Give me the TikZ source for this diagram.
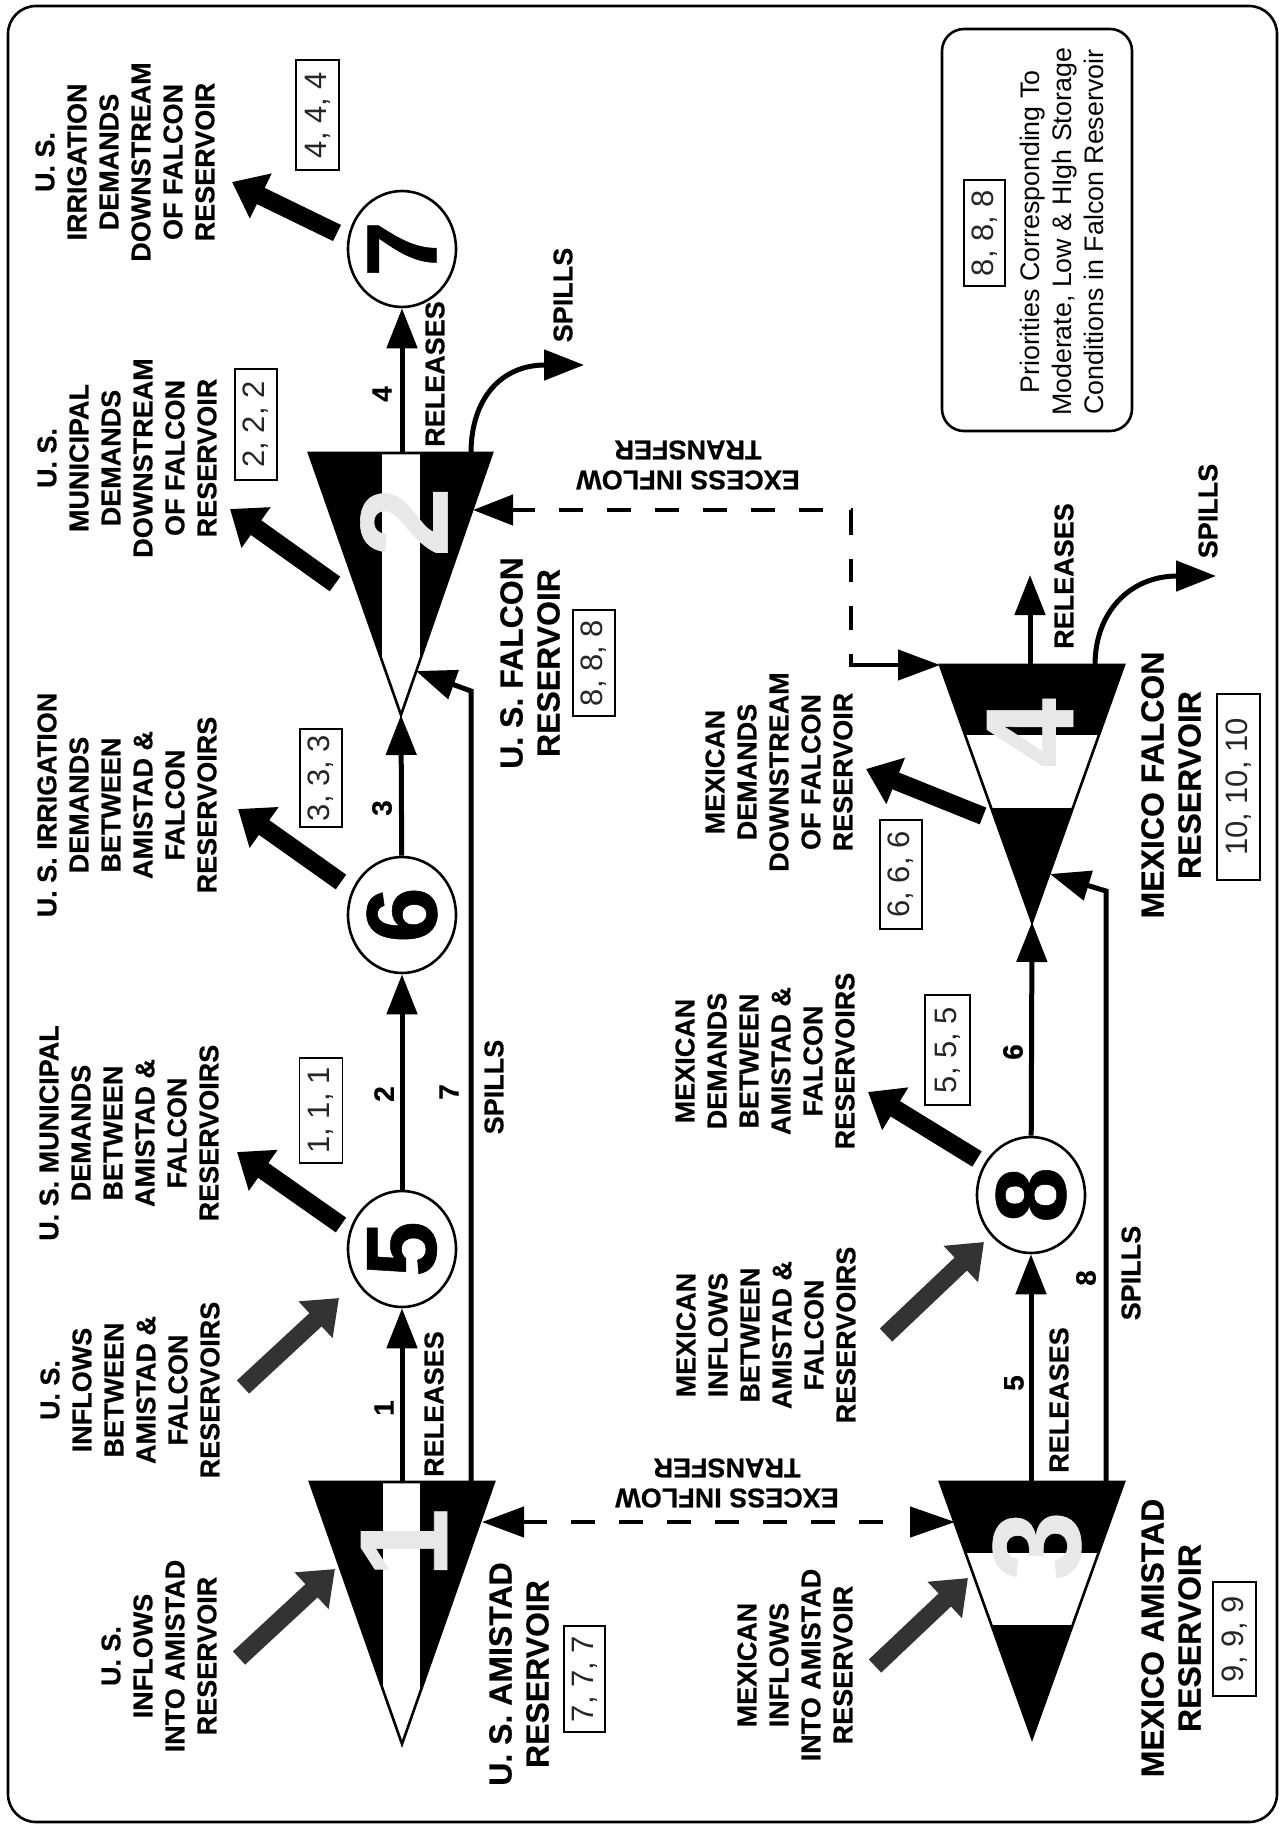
\documentclass[tikz,border=0pt]{standalone}
\usepackage{fontspec}
\setmainfont{Liberation Sans}[BoldFeatures={FakeBold=0.5}]
\usetikzlibrary{arrows.meta,shapes.geometric}
\tikzset{
 x=1pt,y=-1pt,
 txt/.style={rotate=90,align=center,inner sep=0pt,font=\bfseries\fontsize{27}{32}\selectfont},
 ttl/.style={rotate=90,align=center,inner sep=0pt,font=\bfseries\fontsize{32}{37}\selectfont},
 flip/.style={rotate=180,align=center,inner sep=0pt,font=\bfseries\fontsize{27}{30}\selectfont},
 num/.style={rotate=90,inner sep=0pt,font=\bfseries\fontsize{28}{30}\selectfont},
 pri/.style={draw,rotate=90,line width=1.6pt,inner sep=0pt,text=black!85,font=\fontsize{31}{33}\selectfont},
 leg/.style={rotate=90,align=center,inner sep=0pt,font=\fontsize{26.8}{32}\selectfont},
 res/.style={draw,ellipse,rotate=90,fill=white,line width=2.6pt,inner sep=0pt,minimum width=116pt,minimum height=108pt,font=\bfseries\fontsize{100}{100}\selectfont},
 numb/.style={rotate=90,inner sep=0pt,text=black!9,font=\bfseries\fontsize{125}{125}\selectfont},
 flow/.style={line width=5pt,-{Triangle[length=40pt,width=30pt]}},
 big/.style={line width=18pt,-{Triangle[length=32pt,width=48pt]}},
 gbig/.style={big,color=black!80},
 trans/.style={line width=4.5pt},
 tri/.style={line width=2.6pt,draw=black,line join=miter},
}
\begin{document}
\begin{tikzpicture}
\path[use as bounding box,fill=white] (0,0) rectangle (1285,1825);
\node[draw,rounded corners=28pt,line width=2.6pt,minimum width=1269pt,minimum height=1816pt,inner sep=0pt] (frame) at (642.5,914) {};

% reservoir triangles
\coordinate (a1) at (402,1744);\coordinate (l1) at (310,1482);\coordinate (r1) at (494,1482);
\coordinate (a2) at (401,715);\coordinate (l2) at (309,453);\coordinate (r2) at (492,453);
\coordinate (a3) at (1032,1738);\coordinate (l3) at (940,1482);\coordinate (r3) at (1124,1482);
\coordinate (a4) at (1032,922);\coordinate (l4) at (940,665);\coordinate (r4) at (1124,665);
\fill (a1)--(l1)--(r1)--cycle;
\fill (a2)--(l2)--(r2)--cycle;
\fill (a3)--(l3)--(r3)--cycle;
\fill (a4)--(l4)--(r4)--cycle;
\begin{scope}\clip (a1)--(l1)--(r1)--cycle;\fill[white] (383,1482) rectangle (420,1744);\end{scope}
\begin{scope}\clip (a2)--(l2)--(r2)--cycle;\fill[white] (382,453) rectangle (420,715);\end{scope}
\begin{scope}\clip (a3)--(l3)--(r3)--cycle;\fill[white] (940,1553) rectangle (1124,1625);\end{scope}
\begin{scope}\clip (a4)--(l4)--(r4)--cycle;\fill[white] (940,735) rectangle (1124,808);\end{scope}
\draw[tri] (a1)--(l1)--(r1)--cycle;
\draw[tri] (a2)--(l2)--(r2)--cycle;
\draw[tri] (a3)--(l3)--(r3)--cycle;
\draw[tri] (a4)--(l4)--(r4)--cycle;
\node[numb] (n1) at (404,1543) {1};
\node[numb] (n2) at (404,522) {2};
\node[numb] (n3) at (1037,1546) {3};
\node[numb] (n4) at (1030,733) {4};

% junction circles
\node[res] (c5) at (402,1249) {5};
\node[res] (c6) at (402,915) {6};
\node[res] (c7) at (402,249) {7};
\node[res] (c8) at (1031,1195) {8};

% main flows
\coordinate (o1) at (402,1482);
\coordinate (o2) at (402,453);
\coordinate (o3) at (1031,1482);
\coordinate (o4) at (1030,665);
\coordinate (e4) at (1030,575);
\draw[flow] (o1)--(c5);
\draw[flow] (c5)--(c6);
\draw[flow] (c6)--(a2);
\draw[flow] (o2)--(c7);
\draw[flow] (o3)--(c8);
\draw[flow] (c8)--(a4);
\draw[flow] (o4)--(e4);

% spills
\coordinate (s7a) at (471,1482);\coordinate (s7b) at (471,691);\coordinate (s7c) at (416,671);
\draw[flow] (s7a)--(s7b)--(s7c);
\coordinate (s8a) at (1106,1482);\coordinate (s8b) at (1106,891);\coordinate (s8c) at (1050,874);
\draw[flow] (s8a)--(s8b)--(s8c);
\coordinate (s2a) at (471,453);\coordinate (s2b) at (584,365);
\draw[flow] (s2a) .. controls (471,400) and (500,365) .. (s2b);
\coordinate (s4a) at (1095,665);\coordinate (s4b) at (1216,576);
\draw[flow] (s4a) .. controls (1095,612) and (1130,576) .. (s4b);

% excess inflow transfers
\coordinate (x1a) at (482,1522);\coordinate (x1b) at (955,1522);
\draw[trans,dash pattern=on 24pt off 24pt on 24pt off 24pt on 24pt off 24pt on 24pt off 24pt on 24pt off 24pt on 24pt off 24pt on 24pt off 24pt on 24pt off 200pt,{Triangle[length=42pt,width=30pt]}-{Triangle[length=45pt,width=30pt]}] (x1a)--(x1b);
\coordinate (x2a) at (473,510);\coordinate (x2b) at (851,510);\coordinate (x2c) at (851,665);\coordinate (x2d) at (940,665);
\draw[trans,dash pattern=on 23pt off 24pt on 24pt off 24pt on 24pt off 24pt on 24pt off 24pt on 24pt off 24pt on 24pt off 24pt on 24pt off 28pt on 25pt off 24pt on 23pt off 24pt on 24pt off 24pt on 200pt,{Triangle[length=40pt,width=30pt]}-{Triangle[length=42pt,width=30pt]}] (x2a)--(x2b)--(x2c)--(x2d);

% heavy arrows
\coordinate (g1a) at (239,1658);\coordinate (g1b) at (335,1569);
\coordinate (g2a) at (243,1387);\coordinate (g2b) at (339,1298);
\coordinate (g3a) at (875,1666);\coordinate (g3b) at (968,1578);
\coordinate (g4a) at (886,1335);\coordinate (g4b) at (984,1242);
\draw[gbig] (g1a)--(g1b);
\draw[gbig] (g2a)--(g2b);
\draw[gbig] (g3a)--(g3b);
\draw[gbig] (g4a)--(g4b);
\coordinate (d1a) at (341,1225);\coordinate (d1b) at (237,1152);
\coordinate (d2a) at (341,882);\coordinate (d2b) at (238,809);
\coordinate (d3a) at (335,584);\coordinate (d3b) at (230,509);
\coordinate (d4a) at (337,233);\coordinate (d4b) at (232,182);
\coordinate (d5a) at (977,1159);\coordinate (d5b) at (868,1092);
\coordinate (d6a) at (983,816);\coordinate (d6b) at (866,769);
\draw[big] (d1a)--(d1b);
\draw[big] (d2a)--(d2b);
\draw[big] (d3a)--(d3b);
\draw[big] (d4a)--(d4b);
\draw[big] (d5a)--(d5b);
\draw[big] (d6a)--(d6b);

% block labels
\node[txt] (t1) at (159,1656) {U. S.\\INFLOWS\\INTO AMISTAD\\RESERVOIR};
\node[txt] (t2) at (130,1390) {U. S.\\INFLOWS\\BETWEEN\\AMISTAD \&\\FALCON\\RESERVOIRS};
\node[txt] (t3) at (129,1133) {U. S. MUNICIPAL\\DEMANDS\\BETWEEN\\AMISTAD \&\\FALCON\\RESERVOIRS};
\node[txt] (t4) at (127,805) {U. S. IRRIGATION\\DEMANDS\\BETWEEN\\AMISTAD \&\\FALCON\\RESERVOIRS};
\node[txt] (t5) at (127,458) {U. S.\\MUNICIPAL\\DEMANDS\\DOWNSTREAM\\OF FALCON\\RESERVOIR};
\node[txt] (t6) at (125,162) {U. S.\\IRRIGATION\\DEMANDS\\DOWNSTREAM\\OF FALCON\\RESERVOIR};
\node[txt] (t7) at (795,1665) {MEXICAN\\INFLOWS\\INTO AMISTAD\\RESERVOIR};
\node[txt] (t8) at (766,1335) {MEXICAN\\INFLOWS\\BETWEEN\\AMISTAD \&\\FALCON\\RESERVOIRS};
\node[txt] (t9) at (765,1061) {MEXICAN\\DEMANDS\\BETWEEN\\AMISTAD \&\\FALCON\\RESERVOIRS};
\node[txt] (t10) at (779,772) {MEXICAN\\DEMANDS\\DOWNSTREAM\\OF FALCON\\RESERVOIR};

% reservoir titles
\node[ttl] (h1) at (519,1674) {U. S. AMISTAD\\RESERVOIR};
\node[ttl] (h2) at (530,663) {U. S. FALCON\\RESERVOIR};
\node[ttl] (h3) at (1171,1638) {MEXICO AMISTAD\\RESERVOIR};
\node[ttl] (h4) at (1171,785) {MEXICO FALCON\\RESERVOIR};

% flow labels
\node[txt] (f1) at (434,1404) {RELEASES};
\node[txt] (f2) at (435,374) {RELEASES};
\node[txt] (f3) at (1059,1400) {RELEASES};
\node[txt] (f4) at (1064,576) {RELEASES};
\node[txt] (f5) at (494,1087) {SPILLS};
\node[txt] (f6) at (563,295) {SPILLS};
\node[txt] (f7) at (1131,1273) {SPILLS};
\node[txt] (f8) at (1208,511) {SPILLS};
\node[flip] (e1) at (727,1483) {EXCESS INFLOW\\TRANSFER};
\node[flip] (e2) at (688,465) {EXCESS INFLOW\\TRANSFER};

% arc numbers
\node[num] (m1) at (384,1408) {1};
\node[num] (m2) at (384,1094) {2};
\node[num] (m3) at (382,808) {3};
\node[num] (m4) at (382,394) {4};
\node[num] (m5) at (1014,1383) {5};
\node[num] (m6) at (1013,1052) {6};
\node[num] (m7) at (449,1092) {7};
\node[num] (m8) at (1086,1278) {8};

% priorities
\node[pri,minimum width=105pt,minimum height=43pt] (p1) at (321,1110.5) {1, 1, 1};
\node[pri,minimum width=111pt,minimum height=42pt] (p2) at (256,424.5) {2, 2, 2};
\node[pri,minimum width=98pt,minimum height=42pt] (p3) at (321,778) {3, 3, 3};
\node[pri,minimum width=110pt,minimum height=43pt] (p4) at (317.5,115) {4, 4, 4};
\node[pri,minimum width=110pt,minimum height=45pt] (p5) at (947.5,1050) {5, 5, 5};
\node[pri,minimum width=109pt,minimum height=42pt] (p6) at (901,874.5) {6, 6, 6};
\node[pri,minimum width=106pt,minimum height=41pt] (p7) at (584.5,1679) {7, 7, 7};
\node[pri,minimum width=106pt,minimum height=42pt] (p8) at (594,663) {8, 8, 8};
\node[pri,minimum width=114pt,minimum height=43pt] (p9) at (1234.5,1639) {9, 9, 9};
\node[pri,minimum width=186pt,minimum height=43pt] (p10) at (1238.5,787) {10, 10, 10};

% legend
\node[draw,rounded corners=22pt,line width=2.6pt,minimum width=190pt,minimum height=402pt,inner sep=0pt] (lg) at (1037,230) {};
\node[pri,minimum width=106pt,minimum height=41pt] (lp) at (984.5,233) {8, 8, 8};
\node[leg] (lt) at (1062,232) {Priorities Corresponding To\\Moderate, Low \& HIgh Storage\\Conditions in Falcon Reservoir};
\end{tikzpicture}
\end{document}
